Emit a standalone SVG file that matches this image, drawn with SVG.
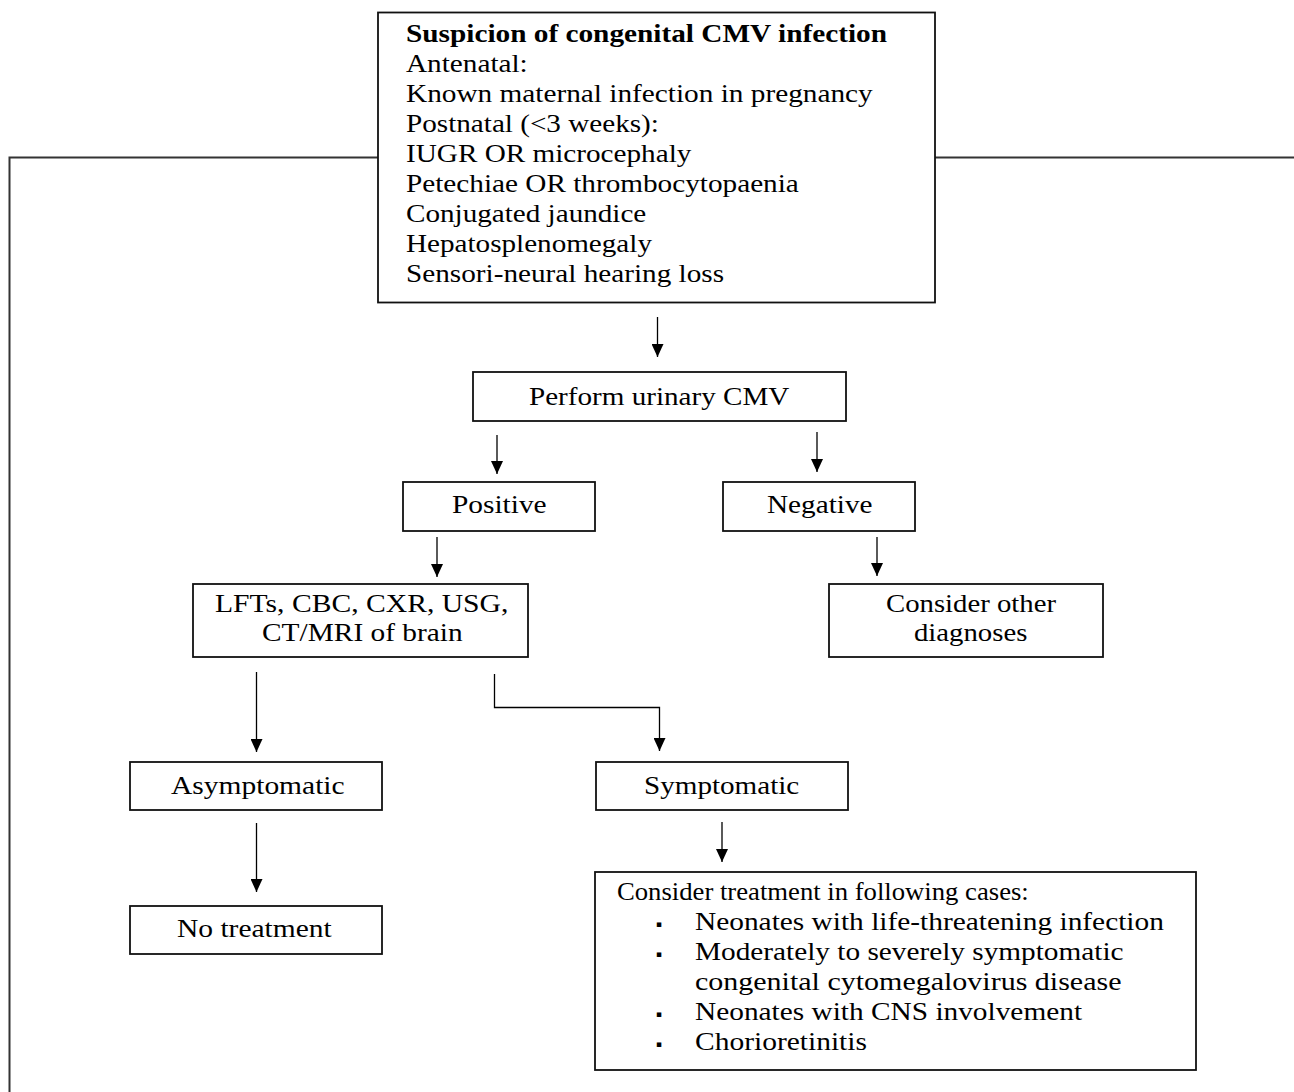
<svg xmlns="http://www.w3.org/2000/svg" width="1294" height="1092" viewBox="0 0 1294 1092">
<defs>
<marker id="ah" markerWidth="13" markerHeight="12" refX="13" refY="6" orient="auto" markerUnits="userSpaceOnUse">
<path d="M0,0 L13,6 L0,12 z" fill="#000"/>
</marker>
<style>
.box{fill:#fff;stroke:#111;stroke-width:1.8}
.t{font-family:"Liberation Serif","Times New Roman",serif;font-size:25px;fill:#000}
.b{font-weight:bold}
.bu{font-family:"DejaVu Sans",sans-serif;font-size:9px;fill:#000}
.ar{fill:none;stroke:#000;stroke-width:1.3;marker-end:url(#ah)}
</style>
</defs>
<rect width="1294" height="1092" fill="#fff"/>
<rect x="9.5" y="157.5" width="1300" height="960" fill="none" stroke="#333" stroke-width="2"/>
<g id="connectors">
<line class="ar" x1="657.5" y1="317" x2="657.5" y2="357"/>
<line class="ar" x1="497" y1="435" x2="497" y2="474"/>
<line class="ar" x1="817" y1="432" x2="817" y2="472"/>
<line class="ar" x1="437" y1="537" x2="437" y2="577"/>
<line class="ar" x1="877" y1="537" x2="877" y2="576"/>
<line class="ar" x1="256.5" y1="672" x2="256.5" y2="752"/>
<polyline class="ar" points="494.5,674 494.5,707.5 659.5,707.5 659.5,751"/>
<line class="ar" x1="256.5" y1="823" x2="256.5" y2="892"/>
<line class="ar" x1="722" y1="822" x2="722" y2="862"/>
</g>
<g id="n_suspicion">
<rect class="box" x="378" y="12.5" width="557" height="290"/>
<text class="t b" transform="translate(406 42) scale(1.172 1)">Suspicion of congenital CMV infection</text>
<text class="t" transform="translate(406 72) scale(1.17 1)">Antenatal:</text>
<text class="t" transform="translate(406 102) scale(1.172 1)">Known maternal infection in pregnancy</text>
<text class="t" transform="translate(406 132) scale(1.167 1)">Postnatal (&lt;3 weeks):</text>
<text class="t" transform="translate(406 162) scale(1.168 1)">IUGR OR microcephaly</text>
<text class="t" transform="translate(406 192) scale(1.17 1)">Petechiae OR thrombocytopaenia</text>
<text class="t" transform="translate(406 222) scale(1.166 1)">Conjugated jaundice</text>
<text class="t" transform="translate(406 252) scale(1.166 1)">Hepatosplenomegaly</text>
<text class="t" transform="translate(406 282) scale(1.169 1)">Sensori-neural hearing loss</text>
</g>
<g id="n_urinary">
<rect class="box" x="473" y="372" width="373" height="49"/>
<text class="t" transform="translate(529 405) scale(1.165 1)">Perform urinary CMV</text>
</g>
<g id="n_positive">
<rect class="box" x="403" y="482" width="192" height="49"/>
<text class="t" transform="translate(452 513) scale(1.175 1)">Positive</text>
</g>
<g id="n_negative">
<rect class="box" x="723" y="482" width="192" height="49"/>
<text class="t" transform="translate(767 513) scale(1.17 1)">Negative</text>
</g>
<g id="n_tests">
<rect class="box" x="193" y="584" width="335" height="73"/>
<text class="t" transform="translate(215 612) scale(1.185 1)">LFTs, CBC, CXR, USG,</text>
<text class="t" transform="translate(262 641) scale(1.175 1)">CT/MRI of brain</text>
</g>
<g id="n_other">
<rect class="box" x="829" y="584" width="274" height="73"/>
<text class="t" transform="translate(886 612) scale(1.15 1)">Consider other</text>
<text class="t" transform="translate(914 641) scale(1.15 1)">diagnoses</text>
</g>
<g id="n_asym">
<rect class="box" x="130" y="762" width="252" height="48"/>
<text class="t" transform="translate(171 794) scale(1.18 1)">Asymptomatic</text>
</g>
<g id="n_sym">
<rect class="box" x="596" y="762" width="252" height="48"/>
<text class="t" transform="translate(644 794) scale(1.165 1)">Symptomatic</text>
</g>
<g id="n_notreat">
<rect class="box" x="130" y="906" width="252" height="48"/>
<text class="t" transform="translate(177 937) scale(1.18 1)">No treatment</text>
</g>
<g id="n_treat">
<rect class="box" x="595" y="872" width="601" height="198"/>
<text class="t" transform="translate(617 900) scale(1.067 1)">Consider treatment in following cases:</text>
<text class="bu" x="656" y="927">▪</text>
<text class="t" transform="translate(695 930) scale(1.175 1)">Neonates with life-threatening infection</text>
<text class="bu" x="656" y="957">▪</text>
<text class="t" transform="translate(695 960) scale(1.172 1)">Moderately to severely symptomatic</text>
<text class="t" transform="translate(695 990) scale(1.2 1)">congenital cytomegalovirus disease</text>
<text class="bu" x="656" y="1017">▪</text>
<text class="t" transform="translate(695 1020) scale(1.174 1)">Neonates with CNS involvement</text>
<text class="bu" x="656" y="1047">▪</text>
<text class="t" transform="translate(695 1050) scale(1.18 1)">Chorioretinitis</text>
</g>
</svg>
